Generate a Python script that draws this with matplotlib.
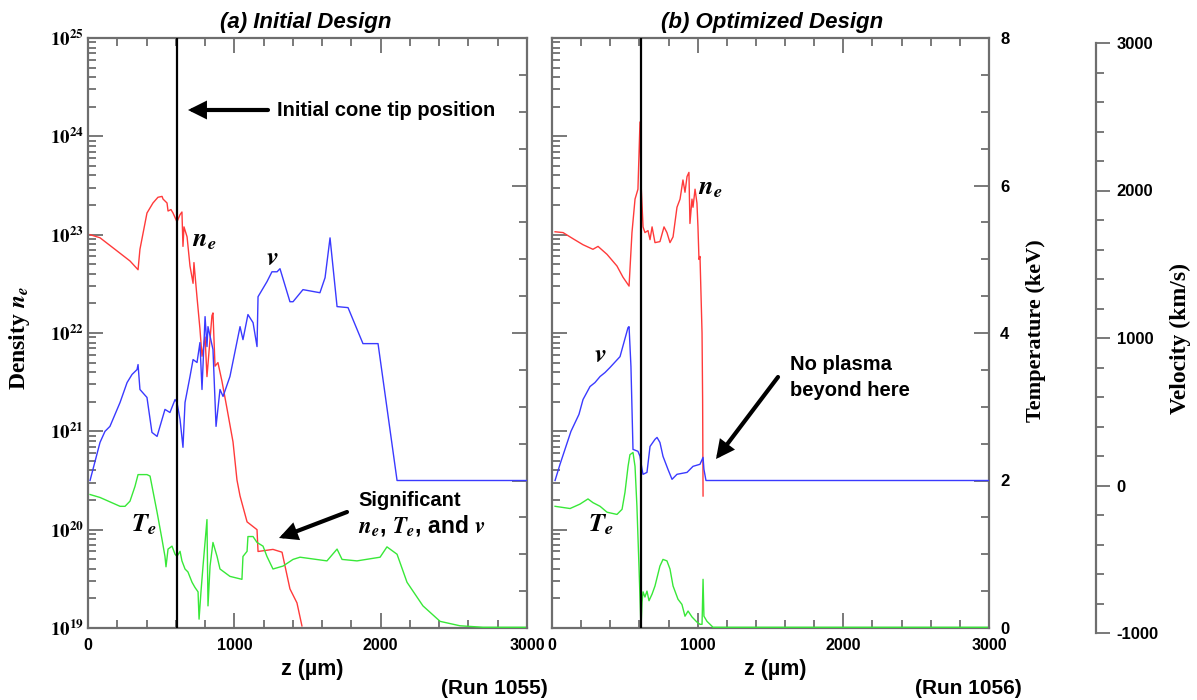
import math
import matplotlib
matplotlib.use("Agg")
import matplotlib.pyplot as plt
from matplotlib.patches import FancyArrowPatch
from matplotlib.ticker import LogLocator, MultipleLocator, NullFormatter, FuncFormatter

plt.rcParams["mathtext.fontset"] = "stix"
plt.rcParams["font.family"] = ["Liberation Sans", "DejaVu Sans"]
plt.rcParams["font.weight"] = "bold"
plt.rcParams["axes.unicode_minus"] = False

# ---------------------------------------------------------------- data
# z (um) sample points and profiles, run 1055 (initial design)
ne_initial = [(14, 1.0e23), (82, 9.3e22), (184, 7.1e22), (287, 5.4e22), (342, 4.4e22),
              (355, 7.1e22), (403, 1.66e23), (444, 2.1e23), (478, 2.4e23), (506, 2.45e23),
              (513, 2.3e23), (540, 2.1e23), (547, 1.74e23), (567, 1.8e23), (581, 1.66e23),
              (608, 1.35e23), (629, 1.6e23), (642, 1.7e23), (649, 7.6e22), (656, 1.2e23),
              (677, 9.5e22), (697, 4.8e22), (718, 3.2e22), (724, 5.2e22), (745, 2.3e22),
              (765, 1.1e22), (779, 5.8e21), (800, 9.1e21), (813, 3.6e21), (847, 1.5e22),
              (854, 1.6e22), (868, 4.6e21), (888, 5.0e21), (916, 3.2e21), (950, 1.7e21),
              (991, 7.8e20), (1018, 3.2e20), (1039, 2.2e20), (1087, 1.2e20), (1155, 1.0e20),
              (1162, 6.0e19), (1264, 6.3e19), (1326, 5.9e19), (1380, 2.5e19), (1428, 1.8e19),
              (1462, 1.05e19)]
te_initial = [(14, 1.81), (82, 1.77), (219, 1.65), (253, 1.65), (287, 1.72), (321, 1.92),
              (342, 2.08), (403, 2.08), (424, 2.06), (472, 1.57), (506, 1.20), (526, 0.97),
              (533, 0.83), (547, 1.07), (574, 1.11), (595, 1.00), (608, 0.97), (629, 1.04),
              (642, 0.91), (663, 0.80), (683, 0.76), (711, 0.62), (731, 0.55), (752, 0.49),
              (759, 0.12), (772, 0.49), (786, 0.84), (813, 1.47), (820, 0.30), (834, 0.84),
              (854, 1.16), (882, 0.97), (902, 0.80), (970, 0.70), (1052, 0.66), (1059, 0.97),
              (1087, 1.04), (1093, 1.24), (1128, 1.24), (1155, 1.16), (1196, 1.11), (1223, 0.97),
              (1264, 0.80), (1333, 0.84), (1401, 0.93), (1449, 0.96), (1633, 0.91), (1702, 1.07),
              (1736, 0.93), (1838, 0.91), (1996, 0.96), (2043, 1.10), (2112, 1.00), (2180, 0.62),
              (2289, 0.30), (2406, 0.09), (2542, 0.03), (2699, 0.01), (3000, 0.01)]
v_initial = [(14, 0), (82, 258), (116, 333), (150, 367), (219, 529), (267, 664), (301, 719),
             (335, 752), (342, 786), (355, 617), (403, 563), (437, 326), (472, 299), (492, 367),
             (526, 482), (560, 461), (595, 549), (608, 529), (629, 414), (649, 225), (663, 529),
             (697, 705), (718, 820), (745, 800), (765, 935), (779, 617), (800, 1111), (813, 908),
             (820, 1043), (854, 888), (875, 367), (902, 617), (923, 570), (970, 705), (1039, 1043),
             (1059, 955), (1093, 1125), (1128, 1070), (1155, 908), (1162, 1246), (1223, 1348),
             (1257, 1415), (1292, 1415), (1312, 1436), (1380, 1212), (1401, 1212), (1469, 1294),
             (1585, 1273), (1620, 1375), (1654, 1645), (1702, 1179), (1777, 1172), (1879, 928),
             (1982, 928), (2112, 0), (3000, 0)]

# run 1056 (optimized design)
ne_optimized = [(21, 1.07e23), (76, 1.05e23), (144, 9.1e22), (213, 7.9e22), (281, 7.1e22),
                (316, 7.6e22), (378, 6.3e22), (446, 4.8e22), (487, 3.7e22), (529, 3.0e22),
                (549, 1.05e23), (570, 2.3e23), (590, 2.9e23), (604, 1.4e24), (611, 3.4e23),
                (625, 1.2e23), (638, 1.05e23), (659, 1.1e23), (673, 8.9e22), (687, 1.2e23),
                (707, 8.3e22), (741, 8.5e22), (769, 1.2e23), (789, 1.05e23), (810, 8.3e22),
                (831, 9.5e22), (858, 1.9e23), (879, 2.3e23), (899, 3.6e23), (913, 2.7e23),
                (927, 3.9e23), (940, 4.3e23), (947, 1.3e23), (961, 2.3e23), (968, 1.9e23),
                (982, 2.9e23), (995, 2.1e23), (1002, 1.2e23), (1009, 5.6e22), (1016, 6.0e22),
                (1030, 1.0e22), (1034, 2.1e21), (1037, 2.2e20)]
te_optimized = [(21, 1.65), (124, 1.62), (192, 1.68), (247, 1.75), (281, 1.70), (330, 1.65),
                (378, 1.57), (446, 1.54), (481, 1.61), (501, 1.84), (522, 2.19), (535, 2.35),
                (556, 2.38), (570, 2.19), (583, 1.65), (597, 0.84), (611, 0.0), (618, 0.35),
                (625, 0.49), (638, 0.42), (652, 0.50), (666, 0.37), (687, 0.46), (707, 0.57),
                (741, 0.84), (762, 0.93), (789, 0.91), (810, 0.80), (831, 0.57), (865, 0.39),
                (892, 0.32), (913, 0.16), (934, 0.23), (961, 0.15), (995, 0.08), (1016, 0.05),
                (1030, 0.05), (1037, 0.66), (1043, 0.16), (1064, 0.09), (1085, 0.05),
                (1105, 0.01), (3000, 0.01)]
v_optimized = [(21, 0), (55, 110), (89, 211), (130, 333), (185, 448), (213, 549), (261, 637),
               (295, 664), (330, 705), (364, 732), (398, 766), (467, 840), (522, 1037),
               (529, 1043), (542, 773), (556, 211), (590, 198), (604, 164), (618, 76), (625, 42),
               (652, 55), (673, 231), (707, 279), (721, 292), (741, 258), (762, 164), (796, 76),
               (824, 8), (858, 42), (927, 55), (968, 96), (1016, 110), (1037, 157), (1043, 76),
               (1057, 0), (3000, 0)]

cone_tip_z = 610
z_range = (0, 3000)
ne_range = (1e19, 1e25)
te_range = (0, 8)
v_range = (-1000, 3000)

# ---------------------------------------------------------------- layout
W, H = 1197, 700
fig = plt.figure(figsize=(W / 100, H / 100), dpi=100)
GRAY = "#6e6e6e"
RED, BLUE, GREEN = "#ff3a3a", "#3a3aff", "#38e838"
SERIF = ["Liberation Serif", "DejaVu Serif"]


def box(left, top, right, bottom):
    return [left / W, 1 - bottom / H, (right - left) / W, (bottom - top) / H]


def at(x, y):
    return (x / W, 1 - y / H)


def unzip(pairs):
    return [p[0] for p in pairs], [p[1] for p in pairs]


def make_panel(rect, ne, te, v, log_labels, te_labels):
    ax = fig.add_axes(rect)
    ax.set_yscale("log")
    ax.set_xlim(*z_range)
    ax.set_ylim(*ne_range)
    axT = ax.twinx()
    axT.set_ylim(*te_range)
    axV = ax.twinx()
    axV.set_ylim(*v_range)
    axV.set_axis_off()

    for a in (ax, axT):
        for sp in a.spines.values():
            sp.set_color(GRAY)
            sp.set_linewidth(1.6)
    for side in ("left", "top", "bottom"):
        axT.spines[side].set_visible(False)
    ax.spines["right"].set_visible(False)

    ax.xaxis.set_major_locator(MultipleLocator(1000))
    ax.xaxis.set_minor_locator(MultipleLocator(200))
    ax.tick_params(axis="x", which="both", direction="in", top=True, bottom=True,
                   color=GRAY, width=1.3, labelsize=11.5, pad=7)
    ax.tick_params(axis="x", which="major", length=11)
    ax.tick_params(axis="x", which="minor", length=5.5)

    ax.yaxis.set_major_locator(LogLocator(base=10, numticks=10))
    ax.yaxis.set_minor_locator(LogLocator(base=10, subs=range(2, 10), numticks=10))
    ax.yaxis.set_minor_formatter(NullFormatter())
    ax.yaxis.set_major_formatter(FuncFormatter(
        lambda val, pos: r"$\mathbf{10^{%d}}$" % round(math.log10(val))))
    ax.tick_params(axis="y", which="both", direction="in", left=True, right=False,
                   color=GRAY, width=1.3, labelsize=13.5, pad=3, labelleft=log_labels)
    ax.tick_params(axis="y", which="major", length=11)
    ax.tick_params(axis="y", which="minor", length=6)

    axT.yaxis.set_major_locator(MultipleLocator(2))
    axT.yaxis.set_minor_locator(MultipleLocator(0.5))
    axT.tick_params(axis="y", which="both", direction="in", left=False, right=True,
                    color=GRAY, width=1.3, labelsize=12, pad=8, labelright=te_labels)
    axT.tick_params(axis="y", which="major", length=11)
    axT.tick_params(axis="y", which="minor", length=6)

    zx, zy = unzip(ne)
    ax.plot(zx, zy, color=RED, lw=1.0)
    tx, ty = unzip(te)
    axT.plot(tx, ty, color=GREEN, lw=1.0)
    vx, vy = unzip(v)
    axV.plot(vx, vy, color=BLUE, lw=1.0)
    axV.axvline(cone_tip_z, color="black", lw=1.6)
    return ax


ax_a = make_panel(box(88, 38, 527, 628), ne_initial, te_initial, v_initial, True, False)
ax_b = make_panel(box(552, 38, 989, 628), ne_optimized, te_optimized, v_optimized, False, True)

# free-standing velocity scale
axv = fig.add_axes(box(1080, 43, 1096, 633))
axv.set_ylim(*v_range)
axv.patch.set_visible(False)
for side in ("left", "top", "bottom"):
    axv.spines[side].set_visible(False)
axv.spines["right"].set_color(GRAY)
axv.spines["right"].set_linewidth(1.6)
axv.xaxis.set_visible(False)
axv.yaxis.set_major_locator(MultipleLocator(1000))
axv.yaxis.set_minor_locator(MultipleLocator(200))
axv.tick_params(axis="y", which="both", direction="out", left=False, right=True,
                labelleft=False, labelright=True, color=GRAY, width=1.3, labelsize=12, pad=5)
axv.tick_params(axis="y", which="major", length=10)
axv.tick_params(axis="y", which="minor", length=6)

# ---------------------------------------------------------------- text
fig.text(*at(306, 28), "(a) Initial Design", ha="center", va="baseline",
         fontsize=16, fontweight="bold", fontstyle="italic")
fig.text(*at(772, 28), "(b) Optimized Design", ha="center", va="baseline",
         fontsize=16, fontweight="bold", fontstyle="italic")

for cx in (312, 775):
    fig.text(*at(cx, 670), "z (µm)", ha="center", va="center", fontsize=15.5, fontweight="bold")
fig.text(*at(548, 688), "(Run 1055)", ha="right", va="center", fontsize=15, fontweight="bold")
fig.text(*at(1022, 688), "(Run 1056)", ha="right", va="center", fontsize=15, fontweight="bold")

fig.text(*at(20, 338), r"Density $\mathbfit{n_e}$", rotation=90, ha="center", va="center",
         fontsize=17, fontweight="bold", family=SERIF)
fig.text(*at(1036, 331), "Temperature (keV)", rotation=90, ha="center", va="center",
         fontsize=16, fontweight="bold", family=SERIF)
fig.text(*at(1180, 338), "Velocity (km/s)", rotation=90, ha="center", va="center",
         fontsize=17, fontweight="bold", family=SERIF)

MATH = dict(fontsize=19, ha="left", va="center")
fig.text(*at(192, 240), r"$\mathbfit{n_e}$", **MATH)
fig.text(*at(266, 258), r"$\mathbfit{v}$", **MATH)
fig.text(*at(131, 525), r"$\mathbfit{T_e}$", **MATH)
fig.text(*at(698, 188), r"$\mathbfit{n_e}$", **MATH)
fig.text(*at(594, 355), r"$\mathbfit{v}$", **MATH)
fig.text(*at(588, 525), r"$\mathbfit{T_e}$", **MATH)

fig.text(*at(277, 110), "Initial cone tip position", ha="left", va="center",
         fontsize=14.5, fontweight="bold")
fig.text(*at(358, 500), "Significant", ha="left", va="center", fontsize=14.5, fontweight="bold")
fig.text(*at(358, 526), r"$\mathbfit{n_e}$, $\mathbfit{T_e}$, and $\mathbfit{v}$",
         ha="left", va="center", fontsize=16.5, fontweight="bold")
fig.text(*at(790, 365), "No plasma", ha="left", va="center", fontsize=14.5, fontweight="bold")
fig.text(*at(790, 390), "beyond here", ha="left", va="center", fontsize=14.5, fontweight="bold")

ARROW = dict(arrowstyle="-|>", lw=3, color="black", mutation_scale=22,
             shrinkA=0, shrinkB=0, joinstyle="miter")
for tail, head in (((268, 110), (188, 110)), ((347, 512), (279, 538)), ((778, 377), (716, 459))):
    fig.add_artist(FancyArrowPatch(at(*tail), at(*head), transform=fig.transFigure, **ARROW))

fig.savefig("out.png", dpi=100)
